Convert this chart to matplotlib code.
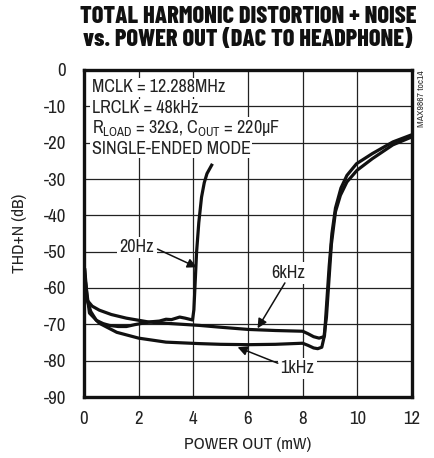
import matplotlib
matplotlib.use('Agg')
import matplotlib.pyplot as plt

# Narrow fonts to mimic the datasheet look
body_font = ['Archivo Narrow', 'Liberation Sans', 'DejaVu Sans']
title_font = ['Barlow Condensed', 'Liberation Sans', 'DejaVu Sans']
plt.rcParams['font.family'] = body_font
plt.rcParams['mathtext.fontset'] = 'custom'
plt.rcParams['mathtext.rm'] = 'Archivo Narrow'
plt.rcParams['mathtext.it'] = 'Archivo Narrow'
plt.rcParams['mathtext.fallback'] = 'stix'

# Data
p_20hz = [0.02, 0.1, 0.25, 0.45, 0.7, 0.93, 1.25, 1.55, 1.85, 2.14, 2.45, 2.76, 3.0,
          3.2, 3.5, 3.7, 3.86, 3.97, 4.02, 4.07, 4.12, 4.2, 4.3, 4.4, 4.5, 4.67]
thd_20hz = [-55, -63, -66.5, -68.9, -69.8, -70.3, -70.6, -70.6, -70.1, -69.7, -69.3, -69.1, -68.6,
            -68.7, -68.0, -68.3, -68.6, -68.8, -66, -58, -50, -42, -35, -31, -28.5, -26.2]

p_6khz = [0.03, 0.12, 0.3, 0.56, 1.0, 1.55, 2.4, 3.4, 4.23, 5.0, 6.0, 7.0, 8.0, 8.2, 8.4,
          8.6, 8.78, 8.87, 8.96, 9.05, 9.2, 9.38, 9.62, 9.99, 10.55, 11.3, 12.0]
thd_6khz = [-55, -63.4, -65, -66.1, -67.3, -68.3, -69.4, -69.9, -70.3, -70.8, -71.4, -71.7, -71.9,
            -72.6, -73.4, -73.8, -73.4, -68, -58, -48, -39, -34.5, -30.8, -27.6, -24.4, -20.6, -18.4]

p_1khz = [0.03, 0.2, 0.56, 1.2, 2.0, 3.0, 4.2, 5.0, 6.0, 7.0, 8.0, 8.2, 8.4, 8.55, 8.7,
          8.8, 8.88, 8.97, 9.07, 9.2, 9.4, 9.62, 9.97, 10.55, 11.3, 12.0]
thd_1khz = [-57, -66.9, -69.7, -72.2, -73.8, -74.9, -75.3, -75.5, -75.6, -75.5, -75.2, -75.8,
            -76.5, -76.7, -76.3, -73, -64, -54, -45, -38, -32.5, -29, -25.8, -23, -19.8, -17.8]

x_ticks = [0, 2, 4, 6, 8, 10, 12]
y_ticks = [0, -10, -20, -30, -40, -50, -60, -70, -80, -90]

fig = plt.figure(figsize=(4.35, 4.58), dpi=100)
ax = fig.add_axes([84 / 435, 1 - 397 / 458, 328 / 435, 327 / 458])

ax.set_xlim(0, 12)
ax.set_ylim(-90, 0)
ax.set_xticks(x_ticks)
ax.set_yticks(y_ticks)
ax.set_xticklabels([str(v) for v in x_ticks])
ax.set_yticklabels([str(v) for v in y_ticks])
ax.tick_params(length=0, labelsize=13.5, colors='#222222', pad=10)
ax.tick_params(axis='y', pad=13)
ax.grid(True, color='#222222', linewidth=0.9)
ax.set_axisbelow(True)
for s in ax.spines.values():
    s.set_linewidth(2.4)
    s.set_color('#111111')

lw = 2.3
ax.plot(p_20hz, thd_20hz, color='#111111', lw=lw, solid_joinstyle='round', zorder=3)
ax.plot(p_6khz, thd_6khz, color='#111111', lw=lw, solid_joinstyle='round', zorder=3)
ax.plot(p_1khz, thd_1khz, color='#111111', lw=lw, solid_joinstyle='round', zorder=3)

# Condition text block, each line knocks out the grid
box = dict(facecolor='white', edgecolor='none', pad=1.0)
lines = ['MCLK = 12.288MHz', 'LRCLK = 48kHz',
         r'R$_{\mathrm{LOAD}}$ = 32$\mathrm{\Omega}$, C$_{\mathrm{OUT}}$ = 220$\mathrm{\mu}$F',
         'SINGLE-ENDED MODE']
for i, t in enumerate(lines):
    ax.text(0.28, -4.8 - 5.65 * i, t, fontsize=13, va='center', ha='left',
            color='#222222', bbox=box, zorder=4)

# Curve labels with arrows
arrow = dict(arrowstyle='-|>', color='#111111', lw=1.1, mutation_scale=14, shrinkA=0, shrinkB=0)
lbl_box = dict(facecolor='white', edgecolor='none', pad=2.0)
ax.text(1.93, -48.8, '20Hz', fontsize=13, ha='center', va='center', color='#222222',
        bbox=lbl_box, zorder=4)
ax.annotate('', xy=(4.13, -54.3), xytext=(2.69, -49.3), arrowprops=arrow, zorder=5)
ax.text(7.46, -55.9, '6kHz', fontsize=13, ha='center', va='center', color='#222222',
        bbox=lbl_box, zorder=4)
ax.annotate('', xy=(6.35, -71.1), xytext=(7.35, -58.6), arrowprops=arrow, zorder=5)
ax.text(7.8, -82.1, '1kHz', fontsize=13, ha='center', va='center', color='#222222',
        bbox=lbl_box, zorder=4)
ax.annotate('', xy=(5.62, -76.3), xytext=(7.09, -80.7), arrowprops=arrow, zorder=5)

ax.set_xlabel('POWER OUT (mW)', fontsize=12.5, color='#222222', labelpad=7)
ax.set_ylabel('THD+N (dB)', fontsize=12.5, color='#222222', labelpad=12)

ax.text(1.015, 1.0, 'MAX9867 toc14', transform=ax.transAxes, rotation=90,
        fontsize=7, ha='left', va='top', color='#333333')

fig.text(248 / 435, 1 - 17 / 458, 'TOTAL HARMONIC DISTORTION + NOISE', family=title_font,
         fontsize=17.5, fontweight=800, ha='center', va='center', color='#111111')
fig.text(248 / 435, 1 - 40 / 458, 'vs. POWER OUT (DAC TO HEADPHONE)', family=title_font,
         fontsize=17.5, fontweight=800, ha='center', va='center', color='#111111')

fig.savefig('out.png', dpi=100)
